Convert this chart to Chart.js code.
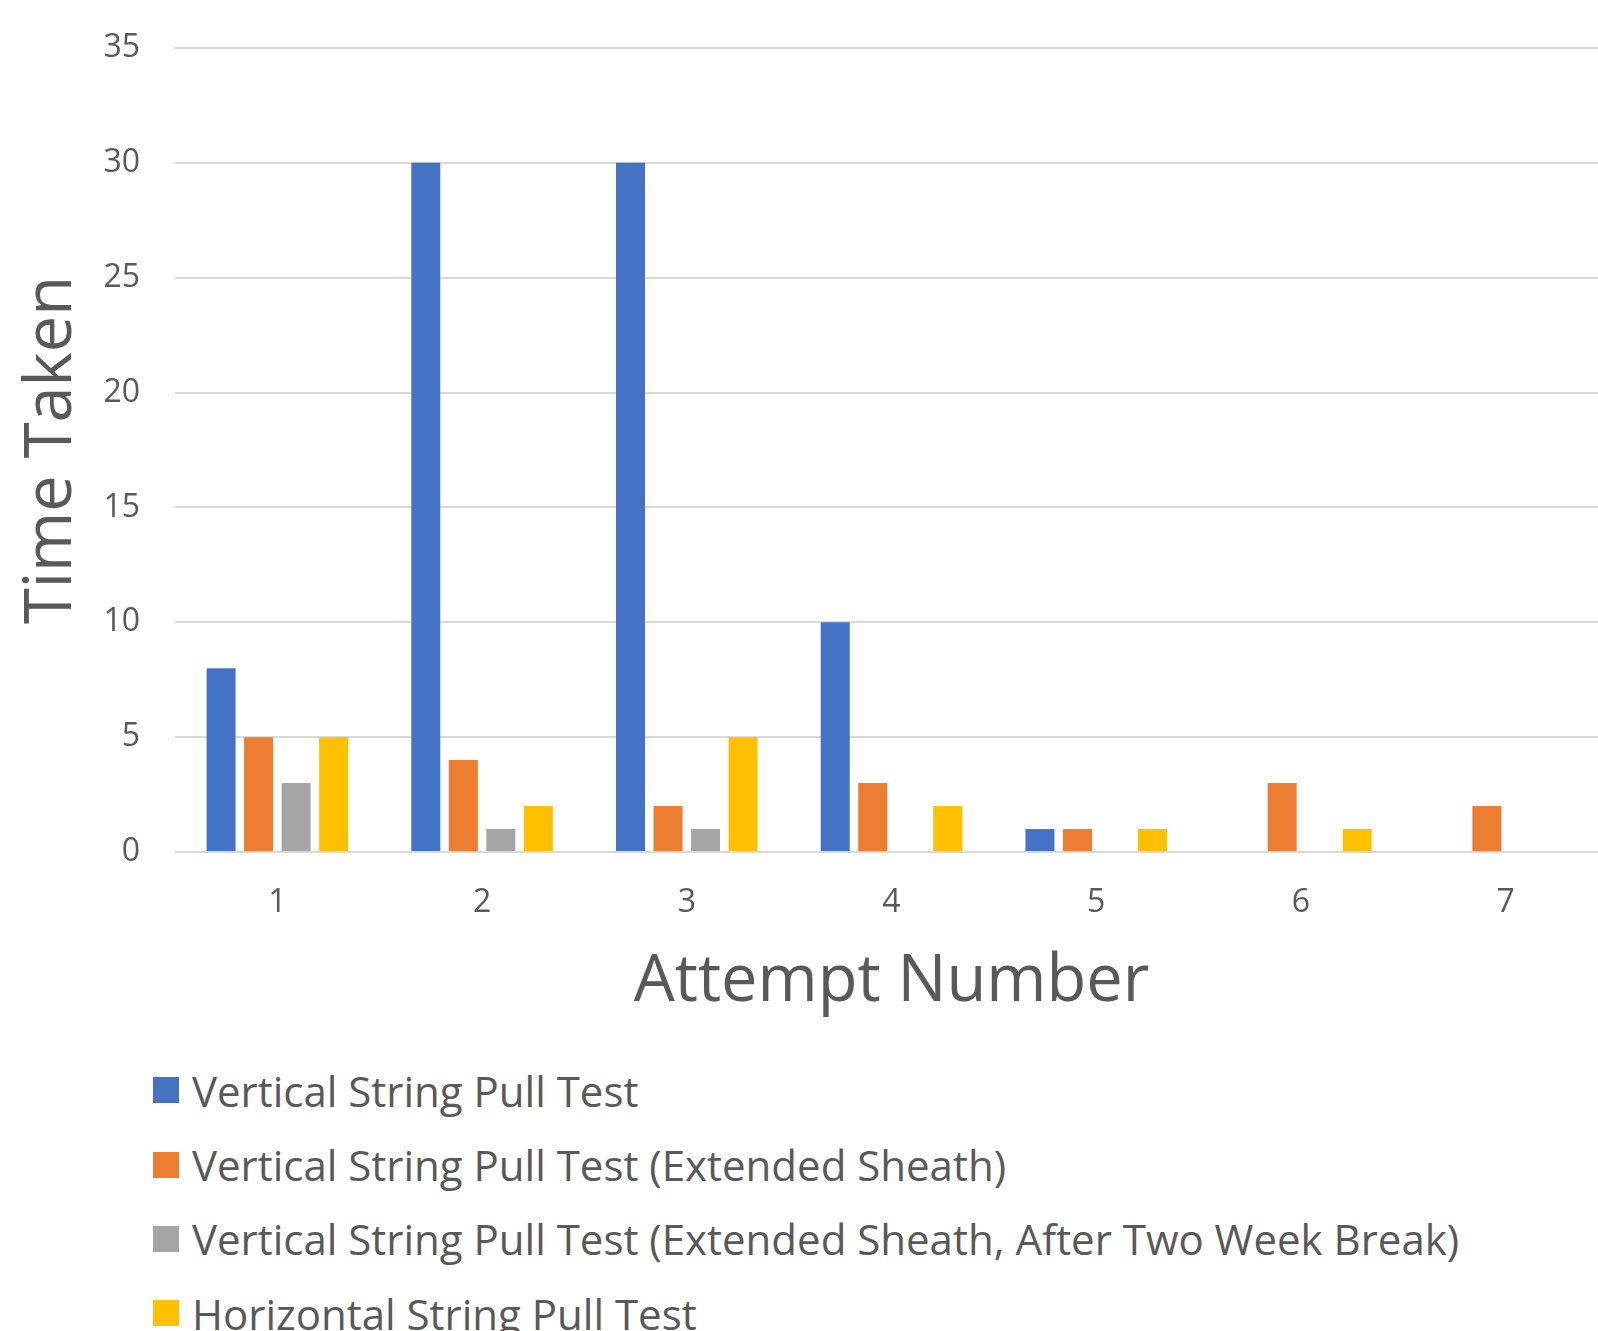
<!DOCTYPE html>
<html>
<head>
<meta charset="utf-8">
<script src="https://cdn.jsdelivr.net/npm/chart.js@4.4.1/dist/chart.umd.min.js"></script>
<style>
  html, body { margin: 0; padding: 0; background: #fff; overflow: hidden; }
  body { width: 1598px; height: 1331px; font-family: "Open Sans", sans-serif; }
  .chart-wrapper { position: relative; width: 1640px; height: 1021px; }
  #legend { margin: 32px 0 0 153px; padding: 0; list-style: none; }
  #legend li { display: flex; align-items: center; height: 74.4px; color: #595959; font-size: 42px; white-space: nowrap; }
  #legend .swatch { width: 26px; height: 26px; margin-right: 13px; flex: none; }
</style>
</head>
<body>
<div class="chart-wrapper"><canvas id="chart"></canvas></div>
<ul id="legend"></ul>
<script>
'use strict';

const ATTEMPTS = ['1', '2', '3', '4', '5', '6', '7'];
const SERIES_LABELS = [
  'Vertical String Pull Test',
  'Vertical String Pull Test (Extended Sheath)',
  'Vertical String Pull Test (Extended Sheath, After Two Week Break)',
  'Horizontal String Pull Test',
];
const VERTICAL = [8, 30, 30, 10, 1, null, null];
const VERTICAL_EXTENDED = [5, 4, 2, 3, 1, 3, 2];
const VERTICAL_EXTENDED_BREAK = [3, 1, 1, null, null, null, null];
const HORIZONTAL = [5, 2, 5, 2, 1, 1, null];
const SERIES_COLORS = ['#4472C4', '#ED7D31', '#A5A5A5', '#FFC000'];
const Y_TICKS = [0, 5, 10, 15, 20, 25, 30, 35];

const TEXT_COLOR = '#595959';
const GRID_COLOR = '#D9D9D9';

const seriesValues = [VERTICAL, VERTICAL_EXTENDED, VERTICAL_EXTENDED_BREAK, HORIZONTAL];

const datasets = seriesValues.map((values, index) => ({
  label: SERIES_LABELS[index],
  data: values,
  backgroundColor: SERIES_COLORS[index],
  borderWidth: 0,
  barPercentage: 0.773,
  categoryPercentage: 0.733,
}));

const chart = new Chart(document.getElementById('chart').getContext('2d'), {
  type: 'bar',
  data: { labels: ATTEMPTS, datasets },
  options: {
    responsive: true,
    maintainAspectRatio: false,
    animation: false,
    layout: { padding: { left: 13, right: 32, top: 48, bottom: 0 } },
    plugins: {
      legend: { display: false },
      tooltip: { enabled: false },
    },
    scales: {
      x: {
        grid: { display: false, drawTicks: false },
        border: { display: false },
        ticks: { color: TEXT_COLOR, font: { family: 'Open Sans', size: 32 }, padding: 32 },
        title: { display: true, text: 'Attempt Number', color: TEXT_COLOR, font: { family: 'Open Sans', size: 65 }, padding: 0 },
        afterFit: scale => { scale.height = 169; },
      },
      y: {
        min: 0,
        max: 35,
        afterBuildTicks: scale => { scale.ticks = Y_TICKS.map(value => ({ value })); },
        grid: { color: GRID_COLOR, lineWidth: 2, drawTicks: false },
        border: { display: false },
        ticks: { color: TEXT_COLOR, font: { family: 'Open Sans', size: 32 }, padding: 35 },
        title: { display: true, text: 'Time Taken', color: TEXT_COLOR, font: { family: 'Open Sans', size: 65 }, padding: 0 },
        // keep the plot top pinned to the layout padding
        afterFit: scale => { scale.width = 162; scale.paddingTop = 0; scale.paddingBottom = 0; },
      },
    },
  },
});

// one legend entry per row, like the original
document.getElementById('legend').innerHTML = chart.data.datasets.map(ds => `
  <li><span class="swatch" style="background:${ds.backgroundColor}"></span>${ds.label}</li>`).join('');
</script>
</body>
</html>
